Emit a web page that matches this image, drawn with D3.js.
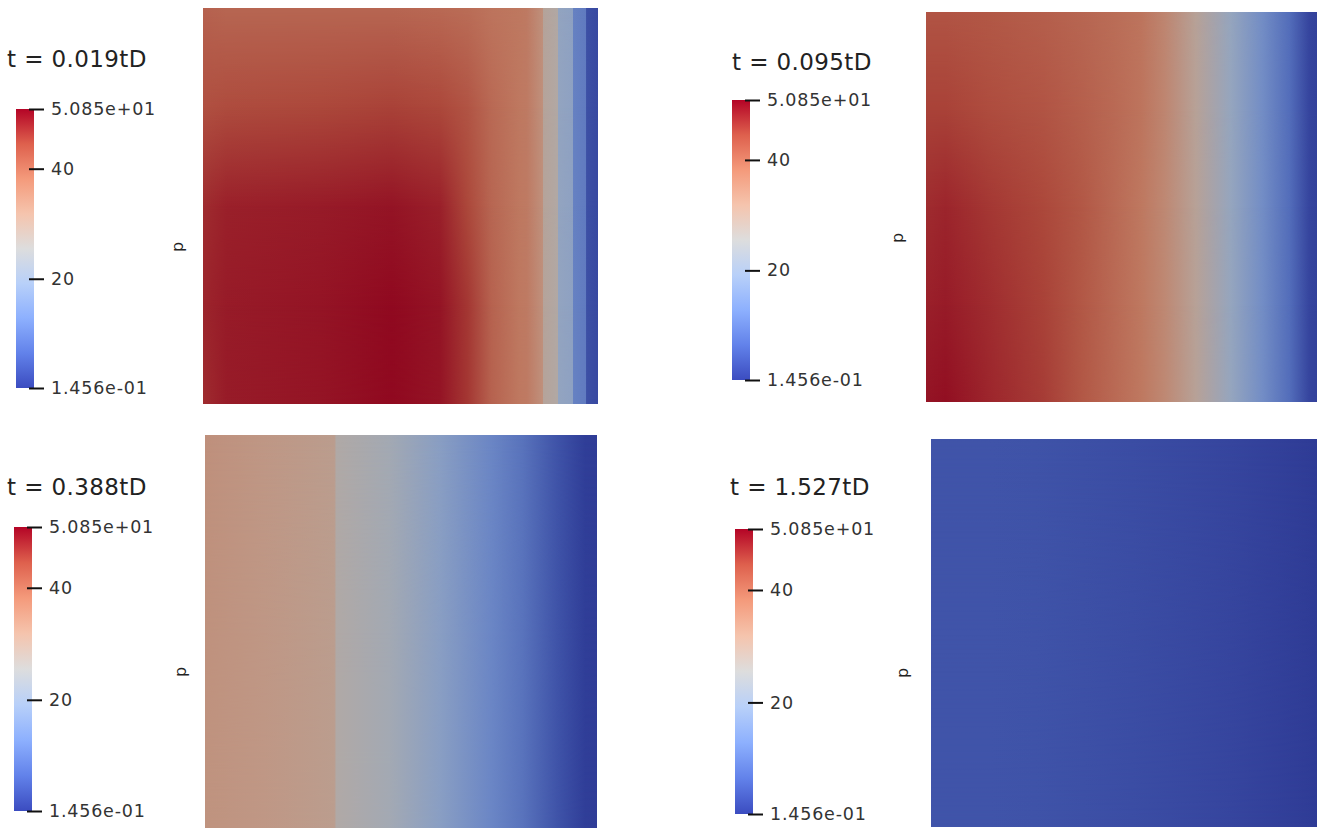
<!DOCTYPE html>
<html>
<head>
<meta charset="utf-8">
<script src="https://cdnjs.cloudflare.com/ajax/libs/d3/7.8.5/d3.min.js"></script>
<style>
  body { margin: 0; background: #fff; }
  svg { display: block; }
</style>
</head>
<body>
<svg id="chart" width="1317" height="829"></svg>
<script>
// pressure range of the colour bar
const pMin = 0.1456;
const pMax = 50.85;
const barTicks = [20, 40];
const timeLabels = ['t = 0.019tD', 't = 0.095tD', 't = 0.388tD', 't = 1.527tD'];
const fieldName = 'p';

// sampled pressure fields: column positions (fraction of width),
// row positions (fraction of height) and one pressure list per row
const p1Cols = [0, 0.06, 0.3, 0.48, 0.6, 0.67, 0.73, 0.8, 0.82, 0.86, 0.862, 0.898, 0.9, 0.936, 0.938, 0.969, 0.971, 1];
const p1Rows = [0, 0.25, 0.5, 0.75, 1];
const p1Vals = [
    [41.2, 40.7, 40.7, 40.7, 40.2, 39.7, 38.7, 38.2, 37.7, 33.6, 28.5, 27.0, 19.9, 18.9, 11.3, 10.3, 3.2, 2.2],
    [43.7, 44.3, 44.8, 45.3, 44.8, 43.2, 40.2, 38.2, 37.7, 33.6, 28.5, 27.0, 19.9, 18.9, 11.3, 10.3, 3.2, 2.2],
    [47.3, 48.3, 48.8, 49.3, 48.3, 44.8, 40.7, 38.2, 37.7, 33.6, 28.5, 27.0, 19.9, 18.9, 11.3, 10.3, 3.2, 2.2],
    [47.8, 48.8, 49.3, 50.3, 49.3, 46.3, 41.2, 38.2, 37.7, 33.6, 28.5, 27.0, 19.9, 18.9, 11.3, 10.3, 3.2, 2.2],
    [47.3, 48.8, 49.3, 50.3, 49.3, 46.3, 41.2, 38.2, 37.7, 33.6, 28.5, 27.0, 19.9, 18.9, 11.3, 10.3, 3.2, 2.2]
];

const p2Cols = [0, 0.05, 0.16, 0.3, 0.4, 0.48, 0.55, 0.61, 0.69, 0.78, 0.86, 0.93, 0.98, 1];
const p2Rows = [0, 0.25, 0.5, 0.75, 1];
const p2Vals = [
    [43.2, 43.2, 42.7, 41.7, 40.7, 39.7, 38.7, 35.6, 29.0, 20.4, 13.8, 7.8, 1.7, 1.2],
    [45.3, 45.3, 44.3, 43.2, 41.7, 40.2, 38.7, 35.6, 29.0, 20.4, 13.8, 7.8, 1.7, 1.2],
    [47.3, 47.8, 46.3, 44.8, 42.7, 40.2, 38.2, 35.1, 29.0, 20.4, 13.8, 7.8, 1.7, 1.2],
    [48.3, 48.8, 47.3, 45.3, 42.7, 40.2, 38.2, 35.1, 29.0, 20.4, 13.8, 7.8, 1.7, 1.2],
    [49.3, 49.8, 47.8, 45.8, 42.7, 40.2, 38.2, 35.1, 29.0, 20.4, 13.8, 7.8, 1.7, 1.2]
];

const p3Cols = [0, 0.15, 0.33, 0.335, 0.47, 0.6, 0.73, 0.81, 0.9, 0.97, 1];
const p3Rows = [0, 1];
const p3Vals = [
    [33.6, 32.1, 30.6, 26.5, 23.5, 17.9, 12.3, 8.8, 3.7, 0.65, 0.4],
    [33.1, 32.1, 30.6, 26.5, 23.5, 17.9, 12.3, 8.8, 3.7, 0.65, 0.4]
];

const p4Cols = [0, 0.15, 0.27, 0.52, 0.78, 0.97, 1];
const p4Rows = [0, 1];
const p4Vals = [
    [3.95, 3.95, 3.7, 2.9, 1.7, 0.4, 0.15],
    [3.95, 3.95, 3.7, 2.9, 1.7, 0.4, 0.15]
];

// "Cool to Warm" colour map stops
const cmapPos = [0, 0.125, 0.25, 0.375, 0.5, 0.625, 0.75, 0.875, 1];
const cmapColors = ['#3b4cc0', '#6282ea', '#8db0fe', '#b8d0f9', '#dddddd',
                    '#f5c4ad', '#f49a7b', '#de604d', '#b40426'];

// placement of each panel (field box, colour bar box, title, axis label)
const layout = [
    { field: [203, 8, 395, 396], bar: [16, 109, 18, 279], title: [7, 67], label: [177, 247] },
    { field: [926, 12, 391, 390], bar: [732, 100, 18, 280], title: [732, 70], label: [897, 238] },
    { field: [205, 435, 392, 393], bar: [14, 527, 18, 284], title: [7, 495], label: [180, 672] },
    { field: [931, 439, 386, 388], bar: [735, 529, 18, 285], title: [730, 495], label: [902, 673] }
];
const fields = [
    { cols: p1Cols, rows: p1Rows, vals: p1Vals },
    { cols: p2Cols, rows: p2Rows, vals: p2Vals },
    { cols: p3Cols, rows: p3Rows, vals: p3Vals },
    { cols: p4Cols, rows: p4Rows, vals: p4Vals }
];

const fontFamily = '"DejaVu Sans", sans-serif';
const shadeFactor = 0.78; // the rendered surface is lit, so it's darker than the bar

const color = d3.scaleLinear()
    .domain(cmapPos.map(t => pMin + t * (pMax - pMin)))
    .range(cmapColors)
    .interpolate(d3.interpolateRgb)
    .clamp(true);

function shaded(v) {
    const c = d3.rgb(color(v));
    return d3.rgb(c.r * shadeFactor, c.g * shadeFactor, c.b * shadeFactor).formatHex();
}

const svg = d3.select('#chart');
const defs = svg.append('defs');

// vertical fade used to blend one row of samples into the next
const fade = defs.append('linearGradient')
    .attr('id', 'vfade')
    .attr('x1', 0).attr('y1', 0).attr('x2', 0).attr('y2', 1);
fade.append('stop').attr('offset', 0).attr('stop-color', '#fff').attr('stop-opacity', 0);
fade.append('stop').attr('offset', 1).attr('stop-color', '#fff').attr('stop-opacity', 1);
defs.append('mask')
    .attr('id', 'vmask')
    .attr('maskContentUnits', 'objectBoundingBox')
    .append('rect')
    .attr('width', 1)
    .attr('height', 1)
    .attr('fill', 'url(#vfade)');

// colour bar gradient (bottom = pMin, top = pMax)
const barGrad = defs.append('linearGradient')
    .attr('id', 'bargrad')
    .attr('x1', 0).attr('y1', 1).attr('x2', 0).attr('y2', 0);
barGrad.selectAll('stop')
    .data(cmapPos)
    .join('stop')
    .attr('offset', d => d)
    .attr('stop-color', (d, i) => cmapColors[i]);

layout.forEach((lay, k) => {
    const f = fields[k];
    const [fx, fy, fw, fh] = lay.field;
    const xs = d3.scaleLinear().domain([0, 1]).range([fx, fx + fw]);
    const ys = d3.scaleLinear().domain([0, 1]).range([fy, fy + fh]);

    // one horizontal gradient per sampled row
    f.rows.forEach((r, i) => {
        const grad = defs.append('linearGradient')
            .attr('id', `f${k}r${i}`)
            .attr('x1', 0).attr('y1', 0).attr('x2', 1).attr('y2', 0);
        grad.selectAll('stop')
            .data(f.cols)
            .join('stop')
            .attr('offset', c => c)
            .attr('stop-color', (c, j) => shaded(f.vals[i][j]));
    });

    const g = svg.append('g').attr('class', 'field');
    for (let i = 0; i < f.rows.length - 1; i++) {
        const y0 = Math.round(ys(f.rows[i]));
        const y1 = Math.round(ys(f.rows[i + 1]));
        g.append('rect')
            .attr('x', xs(0)).attr('y', y0)
            .attr('width', xs(1) - xs(0)).attr('height', y1 - y0)
            .attr('fill', `url(#f${k}r${i})`);
        g.append('rect')
            .attr('x', xs(0)).attr('y', y0)
            .attr('width', xs(1) - xs(0)).attr('height', y1 - y0)
            .attr('fill', `url(#f${k}r${i + 1})`)
            .attr('mask', 'url(#vmask)');
    }

    // axis title next to the field
    svg.append('text')
        .attr('transform', `translate(${lay.label[0]},${lay.label[1]}) rotate(-90)`)
        .attr('text-anchor', 'middle')
        .attr('dy', '0.35em')
        .attr('font-family', fontFamily)
        .attr('font-size', 16)
        .attr('fill', '#222')
        .text(fieldName);

    // colour bar
    const [bx, by, bw, bh] = lay.bar;
    svg.append('rect')
        .attr('x', bx).attr('y', by)
        .attr('width', bw).attr('height', bh)
        .attr('fill', 'url(#bargrad)');

    const yBar = d3.scaleLinear().domain([pMin, pMax]).range([by + bh, by]);
    const axis = d3.axisRight(yBar)
        .tickValues([pMin, ...barTicks, pMax])
        .tickSize(15)
        .tickPadding(7)
        .tickFormat(d => (d === pMin || d === pMax) ? d3.format('.3e')(d).replace(/e([+-])(\d)$/, 'e$10$2') : d3.format('d')(d));

    const ag = svg.append('g')
        .attr('transform', `translate(${bx + bw - 5},0)`)
        .call(axis);
    ag.select('.domain').remove();
    ag.selectAll('.tick line')
        .attr('stroke', '#111')
        .attr('stroke-width', 2);
    ag.selectAll('.tick text')
        .attr('font-family', fontFamily)
        .attr('font-size', 17.5)
        .attr('letter-spacing', 0.8)
        .attr('fill', '#333');

    // time stamp
    svg.append('text')
        .attr('x', lay.title[0])
        .attr('y', lay.title[1])
        .attr('font-family', fontFamily)
        .attr('font-size', 23)
        .attr('letter-spacing', 0.4)
        .attr('fill', '#222')
        .text(timeLabels[k]);
});
</script>
</body>
</html>
